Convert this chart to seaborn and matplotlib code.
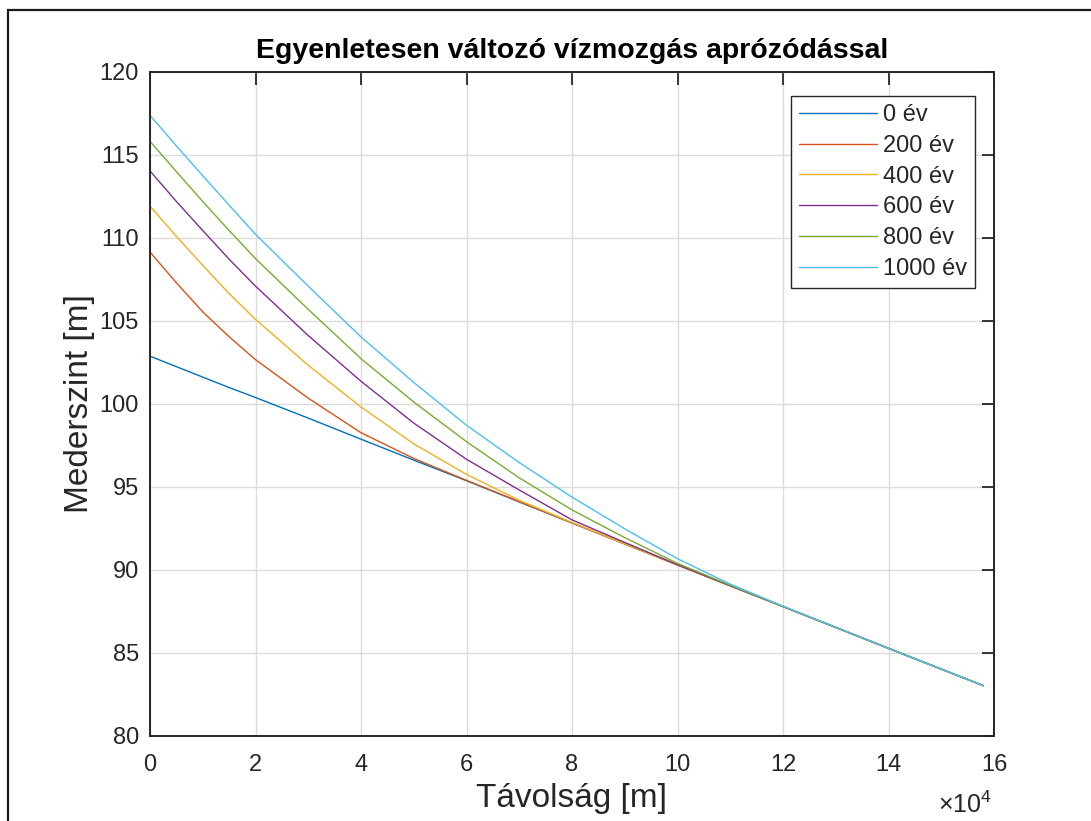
import matplotlib
matplotlib.use("Agg")
import matplotlib.pyplot as plt
import matplotlib.ticker as mticker
from matplotlib.patches import Rectangle
import seaborn as sns
import pandas as pd

# ---- data ----
dist_m = [0, 5000, 10000, 15000, 20000, 30000, 40000, 50000, 60000, 70000,
          80000, 90000, 100000, 110000, 120000, 130000, 140000, 150000, 158000]

ev_0 = [102.88, 102.25, 101.62, 100.99, 100.39, 99.15, 97.88, 96.62, 95.38, 94.10,
        92.83, 91.57, 90.30, 89.05, 87.80, 86.54, 85.28, 84.03, 83.03]
ev_200 = [109.15, 107.30, 105.55, 104.05, 102.67, 100.35, 98.27, 96.72, 95.40, 94.12,
          92.84, 91.57, 90.30, 89.05, 87.80, 86.54, 85.28, 84.03, 83.03]
ev_400 = [111.92, 110.10, 108.35, 106.65, 105.10, 102.33, 99.82, 97.60, 95.76, 94.20,
          92.86, 91.58, 90.30, 89.05, 87.80, 86.54, 85.28, 84.03, 83.03]
ev_600 = [114.04, 112.20, 110.45, 108.72, 107.10, 104.12, 101.37, 98.85, 96.67, 94.82,
          93.02, 91.66, 90.32, 89.05, 87.80, 86.54, 85.28, 84.03, 83.03]
ev_800 = [115.82, 114.00, 112.20, 110.45, 108.76, 105.70, 102.73, 100.12, 97.73, 95.55,
          93.62, 91.95, 90.40, 89.08, 87.80, 86.54, 85.28, 84.03, 83.03]
ev_1000 = [117.39, 115.55, 113.75, 111.98, 110.22, 107.10, 104.04, 101.30, 98.72, 96.47,
           94.39, 92.48, 90.68, 89.15, 87.82, 86.55, 85.28, 84.03, 83.03]

series_labels = ["0 év", "200 év", "400 év", "600 év", "800 év", "1000 év"]
series_values = [ev_0, ev_200, ev_400, ev_600, ev_800, ev_1000]
colors = ["#0072BD", "#D95319", "#EDB120", "#7E2F8E", "#77AC30", "#4DBEEE"]

x_ticks = [0, 20000, 40000, 60000, 80000, 100000, 120000, 140000, 160000]
y_ticks = [80, 85, 90, 95, 100, 105, 110, 115, 120]

title = "Egyenletesen változó vízmozgás aprózódással"
xlabel = "Távolság [m]"
ylabel = "Mederszint [m]"

# ---- build long-form table ----
rows = []
for lab, vals in zip(series_labels, series_values):
    for x, y in zip(dist_m, vals):
        rows.append({"x": x, "y": y, "év": lab})
df = pd.DataFrame(rows)

sns.set_style("white")
plt.rcParams["font.family"] = ["Liberation Sans", "DejaVu Sans"]
plt.rcParams["mathtext.fontset"] = "custom"
plt.rcParams["mathtext.rm"] = "Liberation Sans"

W, H = 1091, 821
fig = plt.figure(figsize=(W / 100, H / 100), dpi=100)
ax = fig.add_axes([150 / W, 1 - 736 / H, (994 - 150) / W, (736 - 72) / H])

sns.lineplot(data=df, x="x", y="y", hue="év", hue_order=series_labels,
             palette=colors, linewidth=1.0, ax=ax, sort=False, legend=False)

axc = "#262626"
ax.set_xlim(0, 160000)
ax.set_ylim(80, 120)
ax.set_xticks(x_ticks)
ax.set_yticks(y_ticks)
ax.xaxis.set_major_formatter(mticker.FuncFormatter(lambda v, p: f"{v/1e4:g}"))
ax.grid(True, color="#dcdcdc", linewidth=1.0)
ax.set_axisbelow(True)
for s in ax.spines.values():
    s.set_visible(True)
    s.set_color(axc)
    s.set_linewidth(1.4)
ax.tick_params(axis="both", direction="in", length=9, width=1.3, color=axc,
               labelsize=17, labelcolor=axc, top=True, right=True)
ax.tick_params(axis="x", pad=13)
ax.tick_params(axis="y", pad=8)

ax.set_title(title, fontsize=20.5, fontweight="bold", color="black", pad=10)
ax.set_xlabel(xlabel, fontsize=24, color=axc, labelpad=5)
ax.set_ylabel(ylabel, fontsize=24, color=axc, labelpad=3)

fig.text(992 / W, 1 - 813 / H, "×10$^{4}$", fontsize=18, color=axc,
         ha="right", va="baseline")

handles = [plt.Line2D([], [], color=c, linewidth=1.0) for c in colors]
leg = ax.legend(handles, series_labels, loc="upper left",
                bbox_to_anchor=((791 - 150) / (994 - 150), 1 - (96 - 72) / (736 - 72)),
                fontsize=17, frameon=True, fancybox=False, framealpha=1,
                edgecolor="#262626", handlelength=3.3, handletextpad=0.25,
                labelspacing=0.37, borderpad=0.35, borderaxespad=0)
leg.get_frame().set_linewidth(1.0)

# outer frame of the figure (cropped on right/bottom)
fig.patches.append(Rectangle((8 / W, -0.05), 1.2, 1 - 10 / H + 0.05,
                             transform=fig.transFigure, fill=False,
                             edgecolor="#1a1a1a", linewidth=1.6))

fig.savefig("out.png", dpi=100)
